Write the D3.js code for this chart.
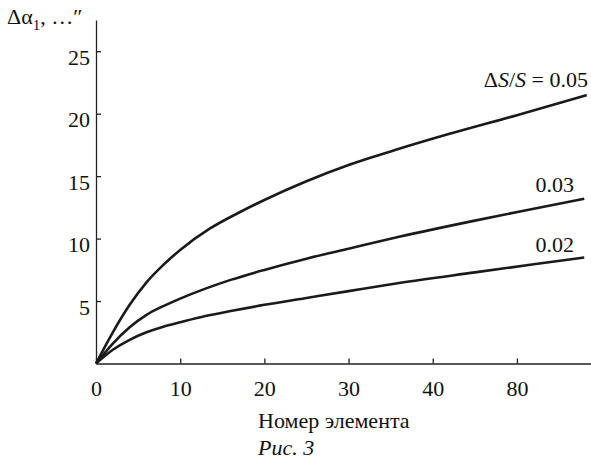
<!DOCTYPE html>
<html>
<head>
<meta charset="utf-8">
<script src="https://cdn.jsdelivr.net/npm/d3@7"></script>
<style>
  body { margin: 0; background: #fff; }
  text, tspan { font-family: 'Liberation Serif', 'Times New Roman', Tinos, FreeSerif, serif; }
</style>
</head>
<body style="margin:0">
<svg id="chart" width="591" height="461" style="font-family: 'Liberation Serif'"></svg>
<script>
// x positions are in tick-slot units (each slot = 10 on the label scale, last label reads 80)
const xTickValues = [0, 10, 20, 30, 40, 50];
const xTickLabels = ["0", "10", "20", "30", "40", "80"];
const yTickValues = [5, 10, 15, 20, 25];

const curveLabels = ["0.05", "0.03", "0.02"];
const series005 = [[0, 0], [2, 2.5], [4, 4.7], [6, 6.5], [8, 7.9], [10, 9.1], [13.5, 10.8], [17, 12.1], [20, 13.1], [25, 14.6], [30, 15.9], [36, 17.2], [42, 18.4], [50, 19.9], [58.3, 21.5]];
const series003 = [[0, 0], [2, 1.6], [4, 2.9], [6, 3.9], [8, 4.6], [10, 5.2], [13, 6.0], [16, 6.7], [20, 7.5], [25, 8.4], [30, 9.2], [36, 10.15], [45, 11.45], [52, 12.4], [58, 13.2]];
const series002 = [[0, 0], [2, 1.1], [4, 1.9], [6, 2.5], [8, 2.95], [10, 3.3], [13, 3.8], [16, 4.2], [20, 4.7], [25, 5.25], [30, 5.8], [36, 6.45], [45, 7.3], [52, 7.95], [58, 8.5]];

const FONT = "Liberation Serif";
const svg = d3.select("#chart");

// origin and scale
const x = d3.scaleLinear().domain([0, 58.8]).range([96, 591]);
const y = d3.scaleLinear().domain([0, 25]).range([363.5, 51.5]);

// x axis, ticks pointing up into the plot
const xAxis = svg.append("g")
    .attr("transform", `translate(0,${y(0)})`)
    .call(d3.axisBottom(x).tickValues(xTickValues).tickSizeInner(-5).tickSizeOuter(0)
        .tickFormat((d, i) => xTickLabels[i]))
    .attr("font-family", FONT).attr("font-size", 22);
xAxis.select(".domain").attr("stroke", "#222").attr("stroke-width", 1.3);
xAxis.selectAll(".tick line").attr("stroke", "#222").attr("stroke-width", 1.3);
xAxis.selectAll(".tick text").attr("y", 32).attr("dy", 0).attr("fill", "#111")
    .attr("font-family", FONT);

// y axis, ticks pointing right
const yAxis = svg.append("g")
    .attr("transform", `translate(${x(0)},0)`)
    .call(d3.axisLeft(y.copy().domain([0, 27.5]).range([363.5, 20])).tickValues(yTickValues).tickSizeInner(-5).tickSizeOuter(0))
    .attr("font-family", FONT).attr("font-size", 22);
yAxis.select(".domain").attr("stroke", "#222").attr("stroke-width", 1.3);
yAxis.selectAll(".tick line").attr("stroke", "#222").attr("stroke-width", 1.3);
yAxis.selectAll(".tick text").attr("x", -6).attr("dy", 13).attr("fill", "#111")
    .attr("font-family", FONT);

const line = d3.line()
    .x(d => x(d[0]))
    .y(d => y(d[1]))
    .curve(d3.curveMonotoneX);

[series005, series003, series002].forEach(s => {
  svg.append("path")
      .attr("d", line(s))
      .attr("fill", "none")
      .attr("stroke", "#1a1a1a")
      .attr("stroke-width", 2.6);
});

function addText(xp, yp) {
  return svg.append("text").attr("x", xp).attr("y", yp)
      .attr("font-family", FONT).attr("font-size", 22).attr("fill", "#111");
}

// curve labels, right aligned above curve ends
const lab005 = addText(588, 87).attr("text-anchor", "end");
lab005.append("tspan").text("\u0394");
lab005.append("tspan").attr("font-style", "italic").text("S");
lab005.append("tspan").text("/");
lab005.append("tspan").attr("font-style", "italic").text("S");
lab005.append("tspan").text(" = " + curveLabels[0]);

addText(574, 192).attr("text-anchor", "end").text(curveLabels[1]);
addText(574, 252).attr("text-anchor", "end").text(curveLabels[2]);

// y axis title
const yTitle = addText(7, 24);
yTitle.append("tspan").text("\u0394\u03b1");
yTitle.append("tspan").attr("font-size", 15).attr("dy", 6).text("1");
yTitle.append("tspan").attr("dy", -6).text(", \u2026\u2033");

// x axis title and caption
addText(258, 428).text("Номер элемента");
addText(258, 455).attr("font-style", "italic").text("Рис. 3");
</script>
</body>
</html>
